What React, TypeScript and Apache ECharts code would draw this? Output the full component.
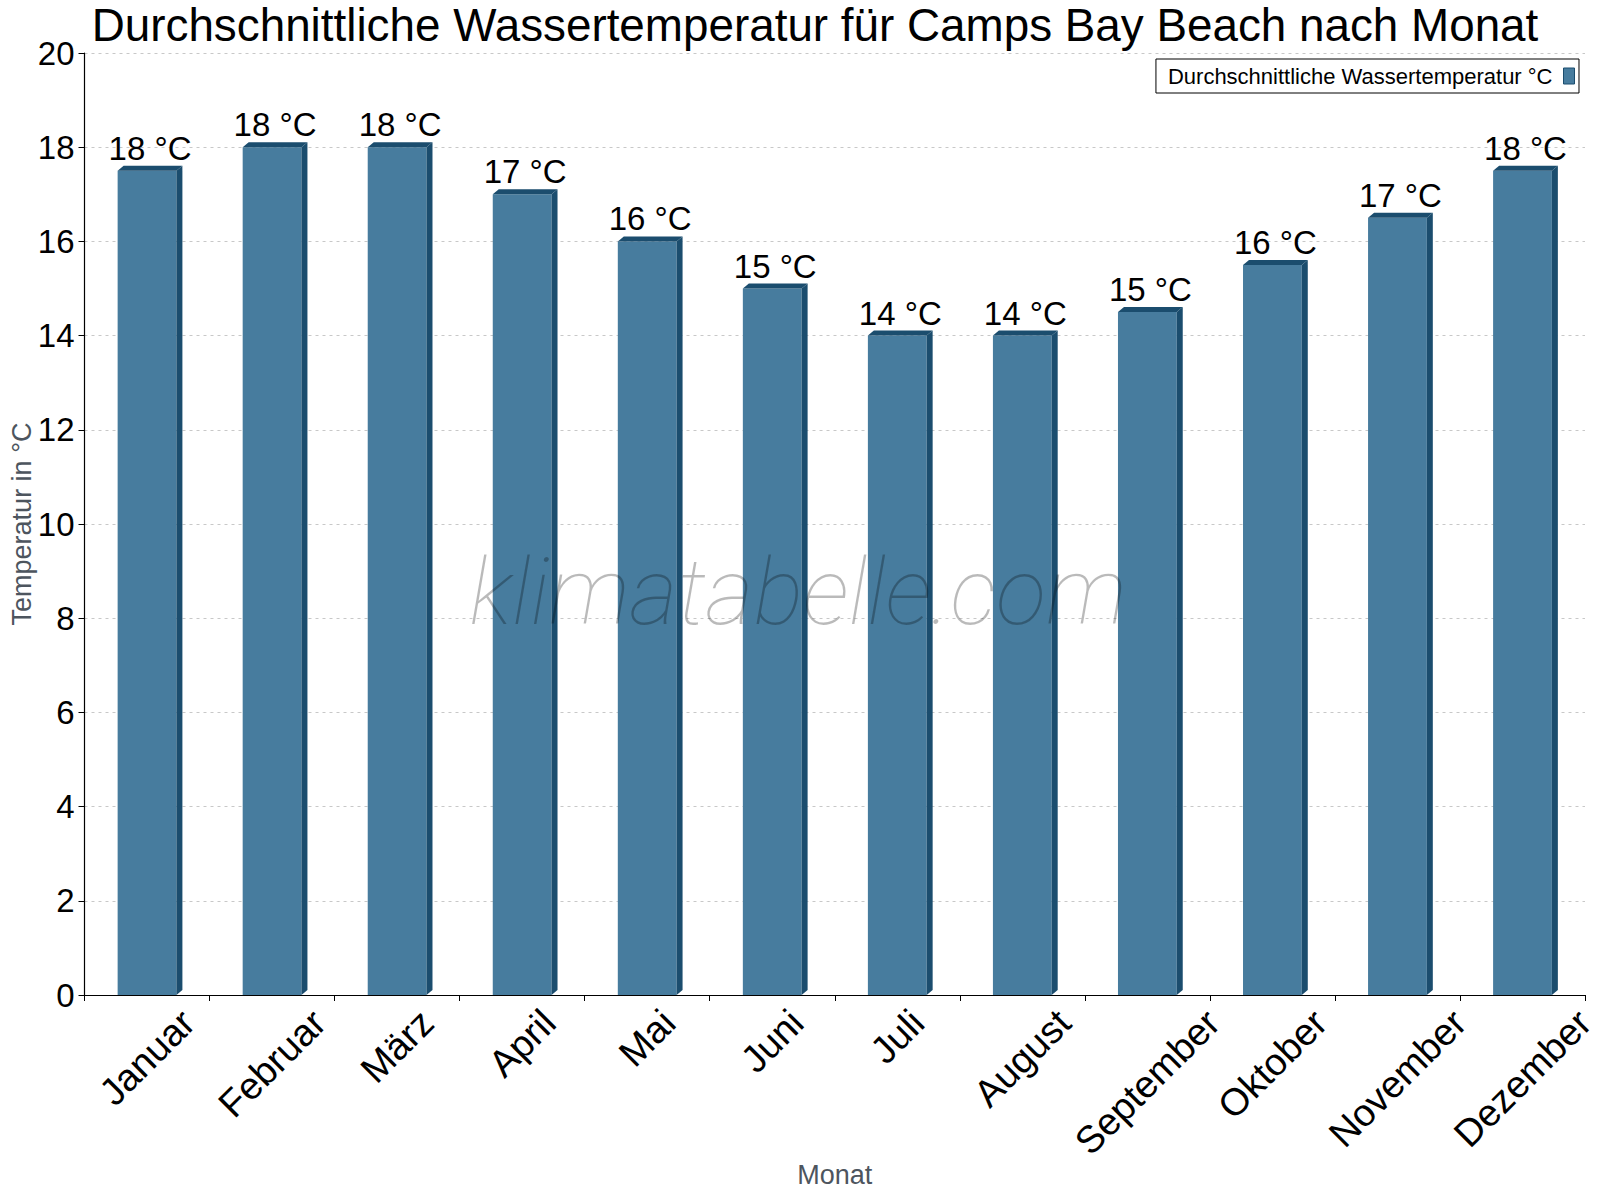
import React, { useEffect, useRef } from "react";
import * as echarts from "echarts";

const months = ["Januar", "Februar", "März", "April", "Mai", "Juni", "Juli", "August", "September", "Oktober", "November", "Dezember"];
const temps = [17.5, 18, 18, 17, 16, 15, 14, 14, 14.5, 15.5, 16.5, 17.5];
const yMin = 0;
const yMax = 20;
const yStep = 2;

const TITLE = "Durchschnittliche Wassertemperatur für Camps Bay Beach nach Monat";
const SERIES_NAME = "Durchschnittliche Wassertemperatur °C";
const FONT = '"Liberation Sans", Arial, sans-serif';
const FRONT = "#477c9e";
const DARK = "#1b4d6e";
const XFS = 38;

export default function App() {
  const ref = useRef<HTMLDivElement>(null);
  useEffect(() => {
    document.body.style.margin = "0";
    const chart = echarts.init(ref.current!, null, { renderer: "svg" });
    const canvas = document.createElement("canvas");
    const ctx = canvas.getContext("2d")!;
    ctx.font = `${XFS}px "Liberation Sans"`;
    const widths = months.map((m) => ctx.measureText(m).width);

    const renderItem = (params: any, api: any) => {
      const i = api.value(0);
      const v = api.value(1);
      const top = api.coord([i, v]);
      const base = api.coord([i, 0]);
      const band = api.size([1, 0])[0];
      const w = band * 0.47;
      const dx = 6;
      const dy = 5;
      const x0 = top[0] - w / 2;
      const x1 = x0 + w;
      const tw = widths[i];
      const h = XFS;
      const yTop = base[1] + 8;
      const cy = yTop + 0.3535 * (tw + h);
      return {
        type: "group",
        children: [
          { type: "rect", shape: { x: x0, y: top[1], width: w, height: base[1] - top[1] }, style: { fill: FRONT } },
          { type: "polygon", shape: { points: [[x0, top[1]], [x0 + dx, top[1] - dy], [x1 + dx, top[1] - dy], [x1, top[1]]] }, style: { fill: DARK } },
          { type: "polygon", shape: { points: [[x1, top[1]], [x1 + dx, top[1] - dy], [x1 + dx, base[1] - dy], [x1, base[1]]] }, style: { fill: DARK } },
          {
            type: "text",
            x: top[0] + dx / 2,
            y: top[1] - dy - 1,
            style: { text: Math.round(v) + " °C", font: `33px ${FONT}`, fill: "#000", align: "center", verticalAlign: "bottom" },
          },
          {
            type: "text",
            x: base[0],
            y: cy,
            rotation: Math.PI / 4,
            style: { text: months[i], font: `${XFS}px ${FONT}`, fill: "#000", align: "center", verticalAlign: "middle" },
          },
        ],
      };
    };

    chart.setOption({
      animation: false,
      backgroundColor: "#fff",
      title: {
        text: TITLE,
        left: 810,
        textAlign: "center",
        top: -3,
        textStyle: { fontFamily: FONT, fontSize: 45.8, fontWeight: "normal", color: "#000" },
      },
      legend: {
        data: [SERIES_NAME],
        right: 21,
        top: 59,
        align: "right",
        icon: "rect",
        itemWidth: 11,
        itemHeight: 16,
        padding: [6, 4, 6, 12],
        borderColor: "#000",
        borderWidth: 1,
        itemStyle: { color: FRONT, borderColor: DARK, borderWidth: 1 },
        textStyle: { fontFamily: FONT, fontSize: 22, color: "#000", padding: [0, 6, 0, 0] },
      },
      grid: { left: 84.5, right: 15, top: 53, bottom: 205, containLabel: false, outerBoundsMode: "none" },
      xAxis: {
        type: "category",
        data: months,
        name: "Monat",
        nameLocation: "middle",
        nameGap: 180,
        nameMoveOverlap: false,
        nameTextStyle: { fontFamily: FONT, fontSize: 27, color: "#4d555e", verticalAlign: "middle" },
        axisLine: { lineStyle: { color: "#000", width: 1.2 } },
        axisTick: { show: true, length: 6, lineStyle: { color: "#000" } },
        axisLabel: { show: false },
        splitLine: { show: false },
      },
      yAxis: {
        type: "value",
        min: yMin,
        max: yMax,
        interval: yStep,
        name: "Temperatur in °C",
        nameLocation: "middle",
        nameGap: 49,
        nameMoveOverlap: false,
        nameTextStyle: { fontFamily: FONT, fontSize: 27, color: "#4d555e" },
        axisLine: { show: true, lineStyle: { color: "#000", width: 1.2 } },
        axisTick: { show: true, length: 6, lineStyle: { color: "#000" } },
        axisLabel: { fontFamily: FONT, fontSize: 33, color: "#000", margin: 10 },
        splitLine: { show: true, lineStyle: { color: "#c8c8c8", type: [3, 4], width: 1 } },
      },
      graphic: [
        {
          type: "text",
          x: 798,
          y: 592,
          z: 100,
          style: {
            text: "klimatabelle.com",
            font: `italic 100 93px Roboto, sans-serif`,
            fill: "rgba(0,0,0,0.27)",
            align: "center",
            verticalAlign: "middle",
          },
        },
      ],
      series: [
        {
          name: SERIES_NAME,
          type: "custom",
          renderItem,
          itemStyle: { color: FRONT },
          encode: { x: 0, y: 1 },
          data: temps.map((v, i) => [i, v]),
          clip: false,
        },
      ],
    });
    return () => chart.dispose();
  }, []);
  return <div ref={ref} style={{ width: 1600, height: 1200 }} />;
}
